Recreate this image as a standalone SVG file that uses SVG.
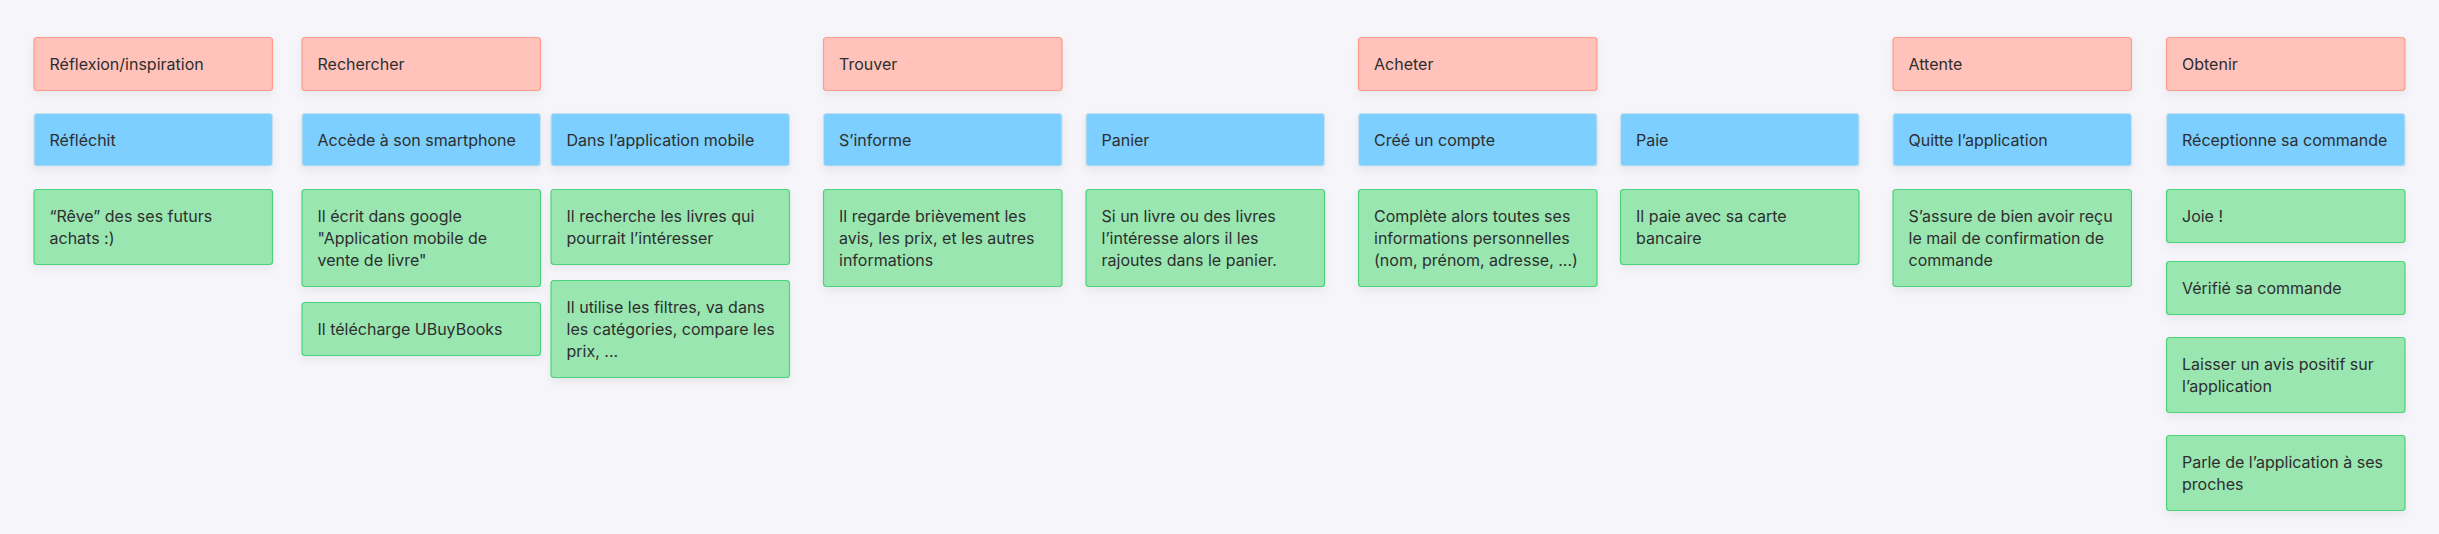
<svg xmlns="http://www.w3.org/2000/svg" width="2439" height="534" viewBox="0 0 2439 534">
<defs>
<filter id="sh" x="-10%" y="-20%" width="120%" height="160%">
<feDropShadow dx="0" dy="4" stdDeviation="4" flood-color="#000" flood-opacity="0.06"/>
</filter>
</defs>
<style>
.r{fill:#FFC3BB;stroke:#FF9A8D;stroke-width:1.2}
.b{fill:#7BCFFF;stroke:#C9DFEE;stroke-width:1.2}
.g{fill:#99E6B1;stroke:#4CD27B;stroke-width:1.2}
rect{filter:url(#sh)}
text{font-family:Inter,"Noto Sans","Liberation Sans",sans-serif;font-size:16px;fill:#2E2E2E}
</style>
<rect x="0" y="0" width="2439" height="534" fill="#F6F5FA" style="filter:none"/>
<g id="connectors"/>
<!-- Row 1 -->
<g id="n-reflexion"><rect class="r" x="34" y="37.5" width="238.5" height="53" rx="3"/><text x="49.5" y="69.5">Réflexion/inspiration</text></g>
<g id="n-rechercher"><rect class="r" x="302" y="37.5" width="238.5" height="53" rx="3"/><text x="317.5" y="69.5">Rechercher</text></g>
<g id="n-trouver"><rect class="r" x="823.5" y="37.5" width="238.5" height="53" rx="3"/><text x="839" y="69.5">Trouver</text></g>
<g id="n-acheter"><rect class="r" x="1358.5" y="37.5" width="238.5" height="53" rx="3"/><text x="1374" y="69.5">Acheter</text></g>
<g id="n-attente"><rect class="r" x="1893" y="37.5" width="238.5" height="53" rx="3"/><text x="1908.5" y="69.5">Attente</text></g>
<g id="n-obtenir"><rect class="r" x="2166.5" y="37.5" width="238.5" height="53" rx="3"/><text x="2182" y="69.5">Obtenir</text></g>
<!-- Row 2 -->
<g id="n-reflechit"><rect class="b" x="34" y="113.5" width="238.5" height="52.5" rx="3"/><text x="49.5" y="145.5">Réfléchit</text></g>
<g id="n-accede"><rect class="b" x="302" y="113.5" width="238.5" height="52.5" rx="3"/><text x="317.5" y="145.5">Accède à son smartphone</text></g>
<g id="n-dansapp"><rect class="b" x="551" y="113.5" width="238.5" height="52.5" rx="3"/><text x="566.5" y="145.5">Dans l’application mobile</text></g>
<g id="n-sinforme"><rect class="b" x="823.5" y="113.5" width="238.5" height="52.5" rx="3"/><text x="839" y="145.5">S’informe</text></g>
<g id="n-panier"><rect class="b" x="1086" y="113.5" width="238.5" height="52.5" rx="3"/><text x="1101.5" y="145.5">Panier</text></g>
<g id="n-compte"><rect class="b" x="1358.5" y="113.5" width="238.5" height="52.5" rx="3"/><text x="1374" y="145.5">Créé un compte</text></g>
<g id="n-paie"><rect class="b" x="1620.5" y="113.5" width="238.5" height="52.5" rx="3"/><text x="1636" y="145.5">Paie</text></g>
<g id="n-quitte"><rect class="b" x="1893" y="113.5" width="238.5" height="52.5" rx="3"/><text x="1908.5" y="145.5">Quitte l’application</text></g>
<g id="n-receptionne"><rect class="b" x="2166.5" y="113.5" width="238.5" height="52.5" rx="3"/><text x="2182" y="145.5">Réceptionne sa commande</text></g>
<!-- Row 3 -->
<g id="n-reve"><rect class="g" x="34" y="189.5" width="238.5" height="75" rx="3"/><text x="49.5" y="221.5">“Rêve” des ses futurs</text><text x="49.5" y="243.5">achats :)</text></g>
<g id="n-ecrit"><rect class="g" x="302" y="189.5" width="238.5" height="97" rx="3"/><text x="317.5" y="221.5">Il écrit dans google</text><text x="317.5" y="243.5">"Application mobile de</text><text x="317.5" y="265.5">vente de livre"</text></g>
<g id="n-telecharge"><rect class="g" x="302" y="302.5" width="238.5" height="53" rx="3"/><text x="317.5" y="334.5">Il télécharge UBuyBooks</text></g>
<g id="n-recherche"><rect class="g" x="551" y="189.5" width="238.5" height="75" rx="3"/><text x="566.5" y="221.5">Il recherche les livres qui</text><text x="566.5" y="243.5">pourrait l’intéresser</text></g>
<g id="n-filtres"><rect class="g" x="551" y="280.5" width="238.5" height="97" rx="3"/><text x="566.5" y="312.5">Il utilise les filtres, va dans</text><text x="566.5" y="334.5">les catégories, compare les</text><text x="566.5" y="356.5">prix, ...</text></g>
<g id="n-regarde"><rect class="g" x="823.5" y="189.5" width="238.5" height="97" rx="3"/><text x="839" y="221.5">Il regarde brièvement les</text><text x="839" y="243.5">avis, les prix, et les autres</text><text x="839" y="265.5">informations</text></g>
<g id="n-silivre"><rect class="g" x="1086" y="189.5" width="238.5" height="97" rx="3"/><text x="1101.5" y="221.5">Si un livre ou des livres</text><text x="1101.5" y="243.5">l’intéresse alors il les</text><text x="1101.5" y="265.5">rajoutes dans le panier.</text></g>
<g id="n-complete"><rect class="g" x="1358.5" y="189.5" width="238.5" height="97" rx="3"/><text x="1374" y="221.5">Complète alors toutes ses</text><text x="1374" y="243.5">informations personnelles</text><text x="1374" y="265.5">(nom, prénom, adresse, ...)</text></g>
<g id="n-carte"><rect class="g" x="1620.5" y="189.5" width="238.5" height="75" rx="3"/><text x="1636" y="221.5">Il paie avec sa carte</text><text x="1636" y="243.5">bancaire</text></g>
<g id="n-assure"><rect class="g" x="1893" y="189.5" width="238.5" height="97" rx="3"/><text x="1908.5" y="221.5">S’assure de bien avoir reçu</text><text x="1908.5" y="243.5">le mail de confirmation de</text><text x="1908.5" y="265.5">commande</text></g>
<g id="n-joie"><rect class="g" x="2166.5" y="189.5" width="238.5" height="53" rx="3"/><text x="2182" y="221.5">Joie !</text></g>
<g id="n-verifie"><rect class="g" x="2166.5" y="261.5" width="238.5" height="53" rx="3"/><text x="2182" y="293.5">Vérifié sa commande</text></g>
<g id="n-avis"><rect class="g" x="2166.5" y="337.5" width="238.5" height="75" rx="3"/><text x="2182" y="369.5">Laisser un avis positif sur</text><text x="2182" y="391.5">l’application</text></g>
<g id="n-parle"><rect class="g" x="2166.5" y="435.5" width="238.5" height="75" rx="3"/><text x="2182" y="467.5">Parle de l’application à ses</text><text x="2182" y="489.5">proches</text></g>
</svg>
